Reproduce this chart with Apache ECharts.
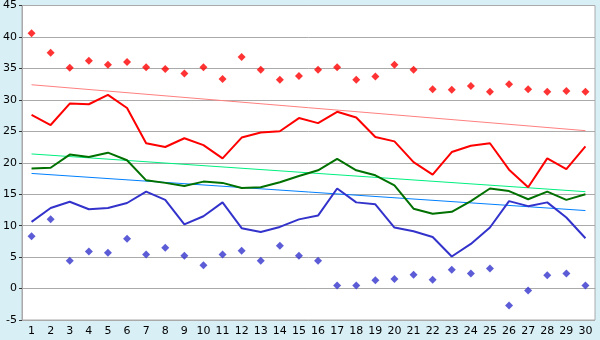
<!DOCTYPE html>
<html>
<head>
<meta charset="utf-8">
<script src="https://cdn.jsdelivr.net/npm/echarts@6/dist/echarts.min.js"></script>
<style>
html,body{margin:0;padding:0;background:#d9eff6;}
#main{width:600px;height:340px;}
</style>
</head>
<body>
<div id="main"></div>
<script>
var days=[];
for(var i=1;i<=30;i++){days.push(String(i));}
// record highs (red diamonds)
var recHigh=[40.6,37.5,35.1,36.2,35.6,36.0,35.2,34.9,34.2,35.2,33.3,36.8,34.8,33.2,33.8,34.8,35.2,33.2,33.7,35.6,34.8,31.7,31.6,32.2,31.3,32.5,31.7,31.3,31.4,31.3];
// daily max (red line)
var maxT=[27.6,26.0,29.4,29.3,30.8,28.7,23.1,22.5,23.9,22.8,20.7,24.0,24.8,25.0,27.1,26.3,28.1,27.2,24.1,23.4,20.1,18.1,21.7,22.7,23.1,18.9,16.1,20.7,19.0,22.6];
// daily mean (green line)
var meanT=[19.1,19.2,21.3,20.9,21.6,20.4,17.2,16.8,16.3,17.0,16.8,16.0,16.1,16.9,17.9,18.8,20.6,18.8,18.0,16.4,12.7,11.9,12.2,13.9,15.9,15.5,14.2,15.4,14.1,15.0];
// daily min (blue line)
var minT=[10.6,12.8,13.8,12.6,12.8,13.6,15.4,14.1,10.2,11.5,13.7,9.6,9.0,9.8,11.0,11.6,15.9,13.7,13.4,9.7,9.1,8.2,5.1,7.1,9.7,13.9,13.1,13.7,11.3,8.0];
// record lows (blue diamonds)
var recLow=[8.3,11.0,4.4,5.9,5.7,7.9,5.4,6.5,5.2,3.7,5.4,6.0,4.4,6.8,5.2,4.4,0.5,0.5,1.3,1.5,2.2,1.4,3.0,2.4,3.2,-2.7,-0.3,2.1,2.4,0.5];
// trend lines, value at day 1 and day 30
var trendMax=[32.4,25.1];
var trendMean=[21.4,15.4];
var trendMin=[18.3,12.4];
var yTicks={min:-5,max:45,step:5};

function trend(t){
  return [[days[0],t[0]],[days[days.length-1],t[1]]];
}
var chart=echarts.init(document.getElementById('main'));
var lbl={color:'#000',fontFamily:'DejaVu Sans',fontSize:11};
var option={
  backgroundColor:'#d9eff6',
  animation:false,
  grid:{left:20,right:5,top:5,bottom:20,show:true,backgroundColor:'#fff',borderColor:'#aaa',borderWidth:1},
  xAxis:{
    type:'category',data:days,boundaryGap:true,
    axisLine:{lineStyle:{color:'#aaa'}},
    axisTick:{alignWithLabel:true,length:4,lineStyle:{color:'#333'}},
    axisLabel:Object.assign({margin:6,interval:0},lbl),
    splitLine:{show:false}
  },
  yAxis:{
    type:'value',min:yTicks.min,max:yTicks.max,interval:yTicks.step,
    axisLine:{show:true,lineStyle:{color:'#aaa'}},
    axisTick:{show:true,length:3,lineStyle:{color:'#333'}},
    axisLabel:Object.assign({margin:5},lbl),
    splitLine:{lineStyle:{color:'#aaa',width:1}}
  },
  series:[
    {type:'line',data:trend(trendMax),symbol:'none',lineStyle:{color:'#ff8080',width:1},z:1},
    {type:'line',data:trend(trendMean),symbol:'none',lineStyle:{color:'#00f080',width:1},z:1},
    {type:'line',data:trend(trendMin),symbol:'none',lineStyle:{color:'#0080ff',width:1},z:1},
    {type:'line',data:maxT,symbol:'none',lineStyle:{color:'#ff0000',width:2},z:3},
    {type:'line',data:meanT,symbol:'none',lineStyle:{color:'#007000',width:2},z:3},
    {type:'line',data:minT,symbol:'none',lineStyle:{color:'#3333cc',width:2},z:3},
    {type:'scatter',data:recHigh,symbol:'diamond',symbolSize:8,itemStyle:{color:'#ff0000'},z:4},
    {type:'scatter',data:recLow,symbol:'diamond',symbolSize:8,itemStyle:{color:'#3333cc'},z:4}
  ]
};
chart.setOption(option);
</script>
</body>
</html>
